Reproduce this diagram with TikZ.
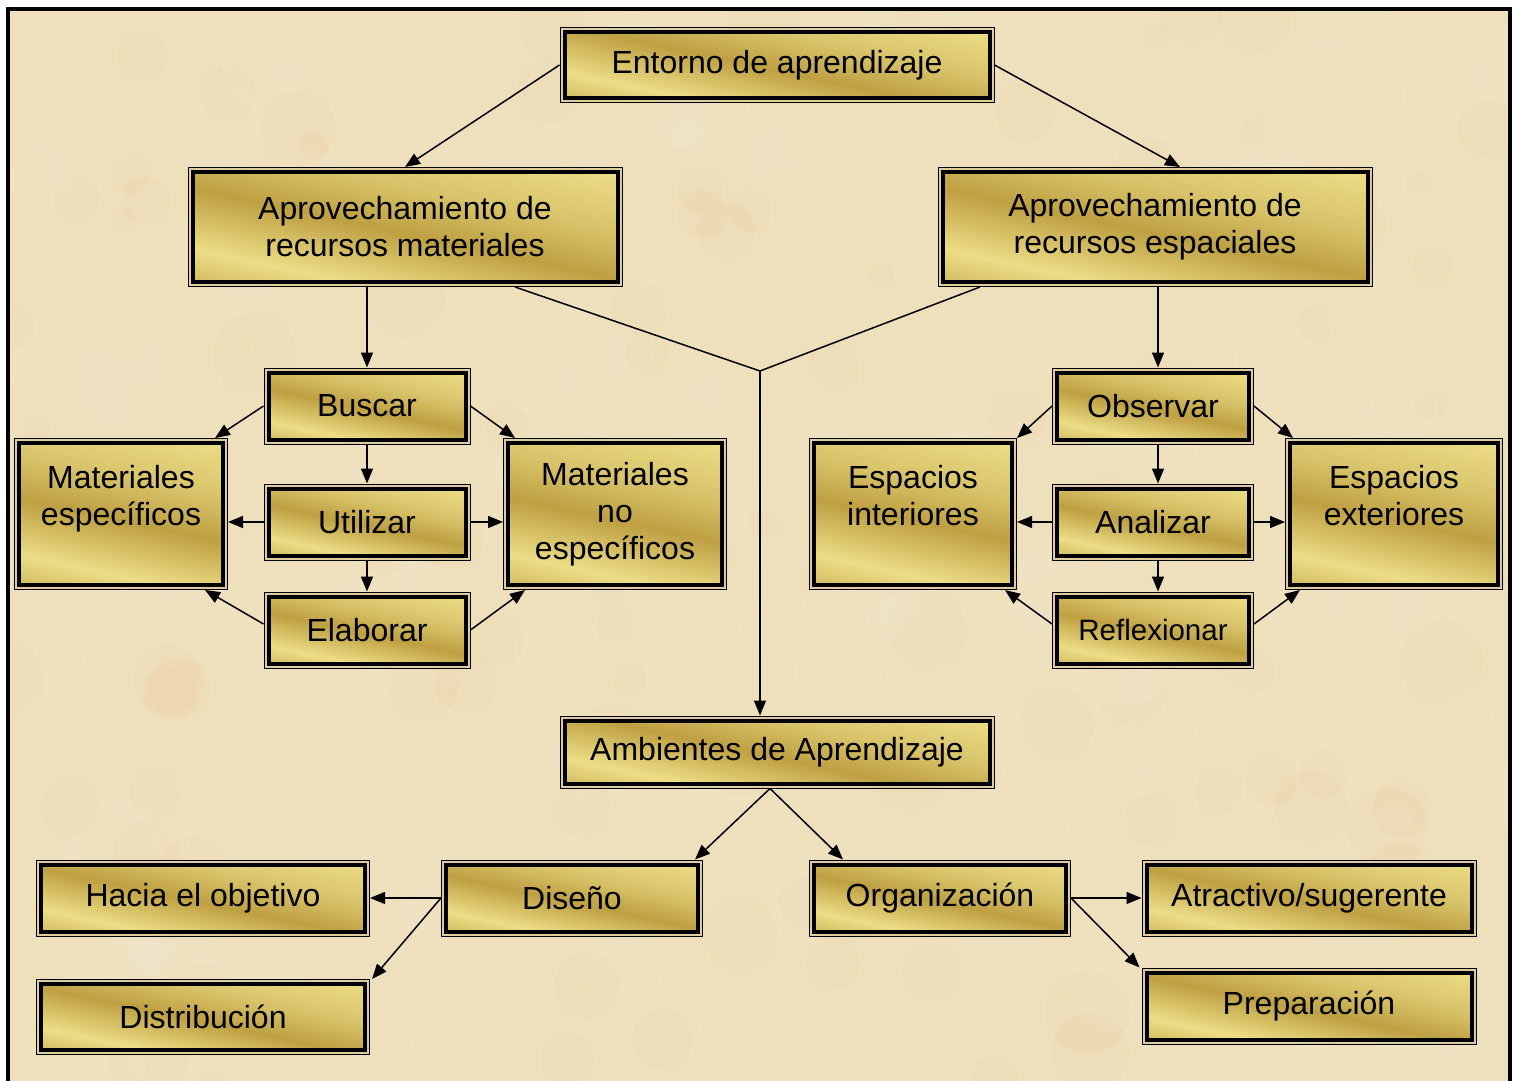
\documentclass[tikz,border=0pt]{standalone}
\usepackage{fontspec}
\setmainfont{Liberation Sans}
\usepackage{tikz}
\usepackage{xcolor}
\usetikzlibrary{arrows.meta, positioning, calc}

\definecolor{parchment}{RGB}{239,224,189}
\definecolor{goldL}{RGB}{236,221,134}
\definecolor{goldM}{RGB}{216,195,106}
\definecolor{goldD}{RGB}{190,160,66}
\definecolor{rimtan}{RGB}{222,204,160}

\pgfdeclareverticalshading{goldbar}{100bp}{color(0bp)=(goldL); color(12bp)=(goldD); color(30bp)=(goldL); color(48bp)=(goldD); color(62bp)=(goldM); color(80bp)=(goldL); color(92bp)=(goldD); color(100bp)=(goldL)}

\tikzset{
  goldbox/.style={draw=black, line width=4pt, shading=goldbar, shading angle=-12,
    preaction={draw=black, line width=10pt},
    preaction={draw=rimtan, line width=8pt},
    inner sep=0pt, outer sep=5pt, align=center, text=black,
    font=\fontsize{32}{37}\selectfont},
  link/.style={-{Triangle[length=15pt,width=12pt]}, line width=1.5pt},
  plain/.style={line width=1.5pt}
}

\begin{document}
\begin{tikzpicture}[x=1pt, y=-1pt]
\useasboundingbox (0,0) rectangle (1516,1081);
\fill[white] (0,0) rectangle (1516,1081);
\fill[parchment] (8,9) rectangle (1510,1081);
% Mottled paper
\pgfmathsetseed{7}
\begin{scope}
\clip (8,9) rectangle (1510,1081);
\foreach \i in {1,...,160} {
    \pgfmathsetmacro{\x}{760 + rand*760}
    \pgfmathsetmacro{\y}{545 + rand*545}
    \pgfmathsetmacro{\r}{15 + rnd*35}
    \fill[white, opacity=0.06] (\x,\y) circle (\r);
}
\foreach \i in {1,...,100} {
    \pgfmathsetmacro{\x}{760 + rand*760}
    \pgfmathsetmacro{\y}{545 + rand*545}
    \pgfmathsetmacro{\r}{12 + rnd*30}
    \fill[brown!60!orange, opacity=0.025] (\x,\y) circle (\r);
}
\end{scope}
\draw[line width=4pt] (8,1090) -- (8,9) -- (1510,9) -- (1510,1090);

% Top level
\node[goldbox, minimum width=425pt, minimum height=66pt] (ent) at (777,65) {Entorno de aprendizaje};
\node[goldbox, minimum width=425pt, minimum height=110pt] (matrec) at (405,227) {Aprovechamiento de\\recursos materiales};
\node[goldbox, minimum width=425pt, minimum height=110pt] (esprec) at (1155,227) {Aprovechamiento de\\recursos espaciales};

% Materials branch
\node[goldbox, minimum width=197pt, minimum height=67pt] (buscar) at (367,406) {Buscar};
\node[goldbox, minimum width=197pt, minimum height=67pt] (utilizar) at (367,522) {Utilizar};
\node[goldbox, minimum width=197pt, minimum height=67pt] (elaborar) at (367,630) {Elaborar};
\node[goldbox, minimum width=204pt, minimum height=142pt] (matesp) at (121,514) {Materiales\\específicos\\~};
\node[goldbox, minimum width=214pt, minimum height=142pt] (matnoesp) at (615,514) {Materiales\\no\\específicos};

% Spaces branch
\node[goldbox, minimum width=192pt, minimum height=67pt] (observar) at (1153,406) {Observar};
\node[goldbox, minimum width=192pt, minimum height=67pt] (analizar) at (1153,522) {Analizar};
\node[goldbox, minimum width=192pt, minimum height=67pt, font=\fontsize{29.5}{34}\selectfont] (reflex) at (1153,630) {Reflexionar};
\node[goldbox, minimum width=198pt, minimum height=142pt] (espint) at (913,514) {Espacios\\interiores\\~};
\node[goldbox, minimum width=208pt, minimum height=142pt] (espext) at (1394,514) {Espacios\\exteriores\\~};

% Bottom level
\node[goldbox, minimum width=425pt, minimum height=63pt] (amb) at (777,752) {Ambientes de Aprendizaje};
\node[goldbox, minimum width=252pt, minimum height=67pt] (diseno) at (572,898) {Diseño};
\node[goldbox, minimum width=252pt, minimum height=67pt] (organ) at (940,898) {Organización};
\node[goldbox, minimum width=324pt, minimum height=67pt] (hacia) at (203,898) {Hacia el objetivo};
\node[goldbox, minimum width=324pt, minimum height=66pt] (distrib) at (203,1017) {Distribución};
\node[goldbox, minimum width=325pt, minimum height=67pt] (atract) at (1309,898) {Atractivo/sugerente};
\node[goldbox, minimum width=325pt, minimum height=67pt] (prep) at (1309,1006) {Preparación};

\coordinate (jn) at (760,371);

% Connectors
\draw[link] (ent.west) -- (matrec.north);
\draw[link] (ent.east) -- ([xshift=25pt]esprec.north);
\draw[link] (matrec.south -| buscar.north) -- (buscar.north);
\draw[link] ([xshift=5pt]esprec.south -| observar.north) -- ([xshift=5pt]observar.north);
\draw[plain] ([xshift=110pt]matrec.south) -- (jn) -- ([xshift=-175pt]esprec.south);
\draw[link] (jn) -- (amb.north -| jn);

\draw[link] (buscar.west) -- ([xshift=-13pt]matesp.north east);
\draw[link] (buscar.east) -- ([xshift=12pt]matnoesp.north west);
\draw[link] (buscar.south) -- (utilizar.north);
\draw[link] (utilizar.south) -- (elaborar.north);
\draw[link] (utilizar.west) -- (utilizar.west -| matesp.east);
\draw[link] (utilizar.east) -- (utilizar.east -| matnoesp.west);
\draw[link] ([yshift=6pt]elaborar.west) -- ([xshift=-23pt]matesp.south east);
\draw[link] (elaborar.east) -- ([xshift=22pt]matnoesp.south west);

\draw[link] (observar.west) -- (espint.north east);
\draw[link] (observar.east) -- ([xshift=8pt]espext.north west);
\draw[link] ([xshift=5pt]observar.south) -- ([xshift=5pt]analizar.north);
\draw[link] ([xshift=5pt]analizar.south) -- ([xshift=5pt]reflex.north);
\draw[link] (analizar.west) -- (analizar.west -| espint.east);
\draw[link] (analizar.east) -- (analizar.east -| espext.west);
\draw[link] ([yshift=6pt]reflex.west) -- ([xshift=-12pt]espint.south east);
\draw[link] ([yshift=6pt]reflex.east) -- ([xshift=15pt]espext.south west);

\draw[link] ([xshift=-7pt]amb.south) -- ([xshift=-8pt]diseno.north east);
\draw[link] ([xshift=-7pt]amb.south) -- ([xshift=34pt]organ.north west);
\draw[link] (diseno.west) -- (hacia.east);
\draw[link] (diseno.west) -- ([xshift=2pt]distrib.north east);
\draw[link] (organ.east) -- (atract.west);
\draw[link] (organ.east) -- ([xshift=-2pt]prep.north west);
\end{tikzpicture}
\end{document}
